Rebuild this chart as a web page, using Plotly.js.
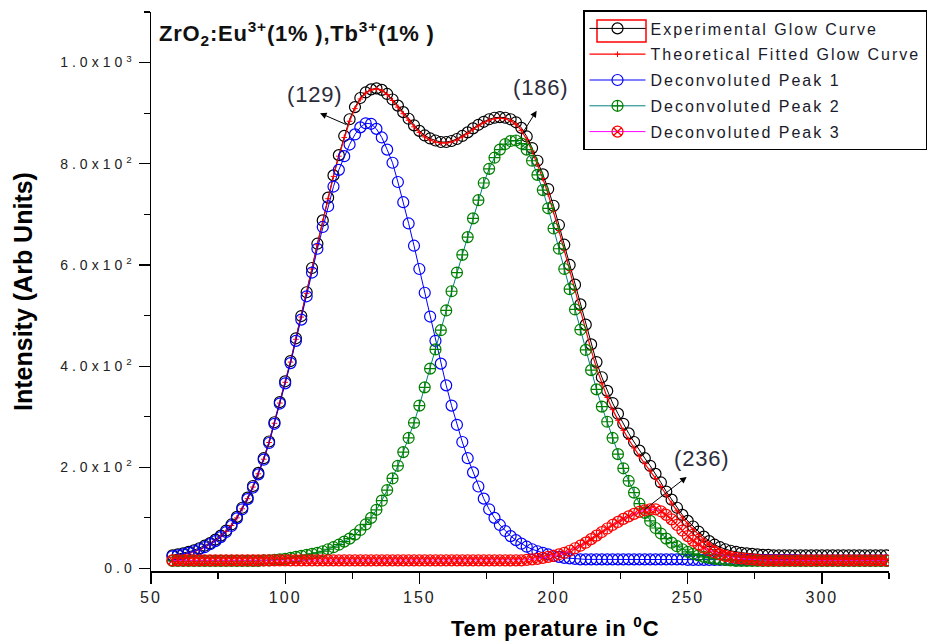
<!DOCTYPE html>
<html>
<head>
<meta charset="utf-8">
<script src="https://cdn.plot.ly/plotly-3.0.1.min.js"></script>
<style>
  html, body { margin: 0; padding: 0; background: #fff; }
  #chart { width: 944px; height: 643px; }
  .legendtext { letter-spacing: 2.0px; }
  .ytick text { letter-spacing: 4px; }
  .xtick text { letter-spacing: 2px; }
  .annotation-text { letter-spacing: 0.8px; }
</style>
</head>
<body>
<div id="chart"></div>
<script>
// Temperature (°C)
const temperature = [
  58,60,62,64,66,68,70,72,74,76,
  78,80,82,84,86,88,90,92,94,96,
  98,100,102,104,106,108,110,112,114,116,
  118,120,122,124,126,128,130,132,134,136,
  138,140,142,144,146,148,150,152,154,156,
  158,160,162,164,166,168,170,172,174,176,
  178,180,182,184,186,188,190,192,194,196,
  198,200,202,204,206,208,210,212,214,216,
  218,220,222,224,226,228,230,232,234,236,
  238,240,242,244,246,248,250,252,254,256,
  258,260,262,264,266,268,270,272,274,276,
  278,280,282,284,286,288,290,292,294,296,
  298,300,302,304,306,308,310,312,314,316,
  318,320,322,324
];

const experimental = [
  26,28,30,33,36,40,45,50,57,65,
  75,87,102,120,140,163,189,218,251,289,
  329,370,410,455,499,546,594,642,688,733,
  777,817,855,888,912,930,941,947,949,946,
  938,927,915,902,889,876,865,856,850,846,
  843,843,845,849,855,862,870,877,883,888,
  891,892,891,888,882,871,854,831,806,779,
  750,717,679,640,600,561,522,482,443,408,
  378,351,327,306,286,267,250,233,218,203,
  187,170,152,136,120,106,94,83,73,63,
  54,47,42,38,35,33,31,30,29,28,
  27,27,26,26,26,26,26,26,26,26,
  26,26,26,26,26,26,26,26,26,26,
  26,26,26,26
];

const theoretical = [
  22,24,27,30,33,37,42,48,55,63,
  73,85,100,118,138,161,187,216,249,287,
  327,368,408,453,497,544,592,640,686,731,
  775,815,852,884,909,928,940,946,948,945,
  937,925,912,899,886,873,862,853,847,843,
  841,841,843,847,853,860,868,875,881,886,
  889,890,889,885,878,866,848,825,799,771,
  740,706,668,629,589,550,510,471,432,396,
  365,338,314,293,273,255,238,222,207,193,
  178,162,145,129,114,100,88,77,67,58,
  50,43,37,32,28,25,23,21,20,19,
  19,18,18,18,18,18,18,18,18,18,
  18,18,18,18,18,18,18,18,18,18,
  18,18,18,18
];

const peak1 = [
  24,26,28,31,34,38,42,48,54,62,
  72,84,99,117,137,160,186,215,248,286,
  326,366,406,450,492,538,585,632,675,716,
  755,788,815,838,858,872,880,879,869,852,
  828,802,764,724,682,638,592,545,498,450,
  405,362,322,284,250,218,190,162,138,117,
  100,86,74,64,56,49,43,38,34,31,
  28,25,23,21,20,19,18,18,18,18,
  18,18,18,18,18,18,18,18,18,18,
  18,18,18,18,18,18,17,17,17,17,
  17,17,17,17,17,17,17,17,17,17,
  17,17,17,17,17,17,17,16,16,16,
  16,16,16,16,16,16,16,16,16,16,
  16,16,16,16
];

const peak2 = [
  15,15,15,15,15,15,15,15,15,15,
  15,15,15,15,15,15,15,16,16,17,
  18,19,21,23,25,27,29,31,34,38,
  42,47,53,59,67,76,87,100,116,134,
  155,178,203,230,258,288,322,358,395,433,
  471,510,548,585,620,655,692,728,762,790,
  812,828,839,845,846,840,828,806,778,748,
  712,672,632,592,552,512,472,432,392,354,
  320,290,258,226,198,173,150,128,110,94,
  80,69,59,51,44,38,33,29,26,23,
  21,19,18,17,16,15,15,15,15,15,
  15,15,15,15,15,15,15,15,15,15,
  15,15,15,15,15,15,15,15,15,15,
  15,15,15,15
];

const peak3 = [
  16,16,16,16,16,16,16,16,16,16,
  16,16,16,16,16,16,16,16,16,16,
  16,16,16,16,16,16,16,16,16,16,
  16,16,16,16,16,16,16,16,16,16,
  16,16,16,16,16,16,16,16,16,16,
  16,16,16,16,16,16,16,16,16,16,
  16,16,16,16,16,16,17,18,19,21,
  23,25,28,31,35,40,45,51,58,65,
  72,79,86,92,98,103,108,112,115,117,
  117,113,106,97,86,75,64,55,48,41,
  36,32,28,25,23,21,20,19,18,17,
  16,16,16,16,16,16,16,16,16,16,
  16,16,16,16,16,16,16,16,16,16,
  16,16,16,16
];

const seriesNames = [
  "Experimental Glow Curve",
  "Theoretical Fitted Glow Curve",
  "Deconvoluted Peak 1",
  "Deconvoluted Peak 2",
  "Deconvoluted Peak 3"
];

const yTickVals = [0, 200, 400, 600, 800, 1000];
const yTickText = ["0.0", "2.0x10<sup>2</sup>", "4.0x10<sup>2</sup>", "6.0x10<sup>2</sup>", "8.0x10<sup>2</sup>", "1.0x10<sup>3</sup>"];
const xTickVals = [50, 100, 150, 200, 250, 300];

// Peak labels: [label, label T, label I, arrow head T, head I, arrow tail T, tail I]
const peakLabels = [
  ["(129)", 111.1, 937, 113.0, 900, 123.4, 876],
  ["(186)", 195.3, 950, 193.7, 905, 188.6, 862],
  ["(236)", 255.0, 217, 249.6, 181, 233.3, 114]
];

const traces = [
  {
    x: temperature, y: experimental, name: seriesNames[0], legendgroup: 'g1',
    type: 'scatter', mode: 'lines+markers',
    line: {color: '#000000', width: 1},
    marker: {symbol: 'circle-open', size: 11, color: '#000000', line: {width: 1.2, color: '#000000'}}
  },
  {
    x: temperature, y: theoretical, name: seriesNames[1], legendgroup: 'g2',
    type: 'scatter', mode: 'lines+markers',
    line: {color: '#ff0000', width: 1.2},
    marker: {symbol: 'cross-thin-open', size: 4, color: '#ff0000', line: {width: 1, color: '#ff0000'}}
  },
  {
    x: temperature, y: peak1, name: seriesNames[2], legendgroup: 'g3',
    type: 'scatter', mode: 'lines+markers',
    line: {color: '#0000ff', width: 1},
    marker: {symbol: 'circle-open', size: 11, color: '#0000ff', line: {width: 1.2, color: '#0000ff'}}
  },
  {
    x: temperature, y: peak2, name: seriesNames[3], legendgroup: 'g4',
    type: 'scatter', mode: 'lines+markers',
    line: {color: '#008080', width: 1},
    marker: {symbol: 'circle-cross-open', size: 11, color: '#008000', line: {width: 1.2, color: '#008000'}}
  },
  {
    x: temperature, y: peak3, name: seriesNames[4], legendgroup: 'g5',
    type: 'scatter', mode: 'lines+markers',
    line: {color: '#ff00ff', width: 1},
    marker: {symbol: 'circle-x-open', size: 11, color: '#ff0000', line: {width: 1.2, color: '#ff0000'}}
  }
];

const annotations = [
  {
    xref: 'paper', yref: 'paper', x: 0.008, y: 0.961, xanchor: 'left', yanchor: 'middle',
    text: '<b>ZrO<sub>2</sub>:Eu<sup>3+</sup>(1% ),Tb<sup>3+</sup>(1% )</b>',
    showarrow: false, font: {family: 'Arial, Liberation Sans, sans-serif', size: 22, color: '#111'}
  },
  {
    xref: 'paper', yref: 'paper', x: (555 - 151) / 738, y: (571 - 627) / 561, xanchor: 'center', yanchor: 'middle',
    text: '<b>Tem perature in <sup>0</sup>C</b>',
    showarrow: false, font: {family: 'Liberation Sans Narrow, Arial Narrow, Arial, sans-serif', size: 22, color: '#000'}
  }
];
peakLabels.forEach(p => {
  annotations.push({
    xref: 'x', yref: 'y', x: p[1], y: p[2], text: p[0], showarrow: false,
    font: {family: 'Arial, Liberation Sans, sans-serif', size: 22, color: '#2b2b3b'}
  });
  annotations.push({
    xref: 'x', yref: 'y', axref: 'x', ayref: 'y',
    x: p[3], y: p[4], ax: p[5], ay: p[6], text: '',
    showarrow: true, arrowhead: 2, arrowsize: 1.3, arrowwidth: 1, arrowcolor: '#000',
    standoff: 0, startstandoff: 0
  });
});

const layout = {
  width: 944, height: 643,
  margin: {l: 151, r: 55, t: 10, b: 72},
  paper_bgcolor: '#ffffff', plot_bgcolor: '#ffffff',
  font: {family: 'Arial, Liberation Sans, sans-serif', color: '#222'},
  showlegend: true,
  legend: {
    x: (583 - 151) / 738, y: (571 - 8) / 561, xanchor: 'left', yanchor: 'top',
    bgcolor: 'rgba(255,255,255,0)', bordercolor: '#000000', borderwidth: 1.5,
    font: {family: 'Arial, Liberation Sans, sans-serif', size: 16, color: '#1a1a2a'},
    tracegroupgap: 2, itemwidth: 56
  },
  shapes: [
    {type: 'rect', xref: 'paper', yref: 'paper',
     x0: (597 - 151) / 738, x1: (646 - 151) / 738, y0: (571 - 40) / 561, y1: (571 - 18) / 561,
     line: {color: '#ff0000', width: 1.5}, fillcolor: 'rgba(0,0,0,0)', layer: 'above'}
  ],
  xaxis: {
    range: [50, 325],
    showgrid: false, zeroline: false,
    showline: true, linecolor: '#000', linewidth: 1.5,
    ticks: 'outside', ticklen: 11, tickwidth: 1.2, tickcolor: '#000',
    tickvals: xTickVals,
    tickfont: {family: 'Arial, Liberation Sans, sans-serif', size: 16, color: '#222'},
    minor: {dtick: 25, ticks: 'outside', ticklen: 6, tickwidth: 1.2, tickcolor: '#000', showgrid: false}
  },
  yaxis: {
    range: [-5, 1100],
    showgrid: false, zeroline: false,
    showline: true, linecolor: '#000', linewidth: 1.5,
    ticks: 'outside', ticklen: 11, tickwidth: 1.2, tickcolor: '#000',
    tickvals: yTickVals, ticktext: yTickText,
    tickfont: {family: 'Arial, Liberation Sans, sans-serif', size: 14, color: '#222'},
    minor: {dtick: 100, ticks: 'outside', ticklen: 6, tickwidth: 1.2, tickcolor: '#000', showgrid: false},
    title: {text: '<b>Intensity (Arb Units)</b>', standoff: 20,
      font: {family: 'Arial, Liberation Sans, sans-serif', size: 25, color: '#000'}}
  },
  annotations: annotations
};

Plotly.newPlot('chart', traces, layout, {displayModeBar: false, staticPlot: true});
</script>
</body>
</html>
